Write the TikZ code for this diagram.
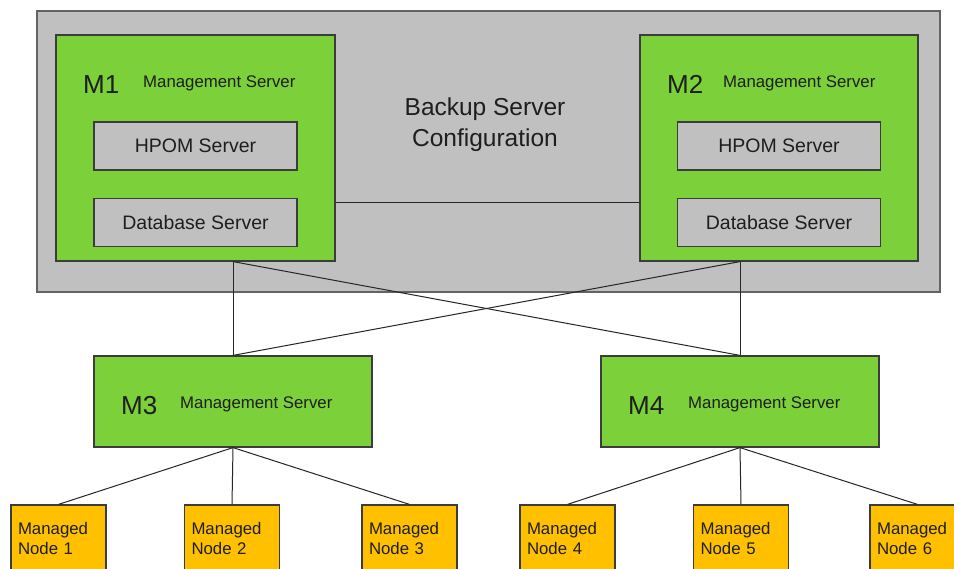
\documentclass[tikz,border=0pt]{standalone}
\usepackage{fontspec}
\setmainfont{Liberation Sans}
\usetikzlibrary{calc}
\definecolor{srvgreen}{RGB}{124,208,58}
\definecolor{bggray}{RGB}{192,192,192}
\definecolor{nodeorange}{RGB}{255,192,0}
\definecolor{edgegray}{RGB}{60,60,60}
\definecolor{txt}{RGB}{30,30,30}
\tikzset{
  backupbox/.style={draw=edgegray!80, line width=1.3pt, fill=bggray, inner sep=0pt},
  mgmtbox/.style={draw=edgegray, line width=1.2pt, fill=srvgreen, inner sep=0pt},
  innerbox/.style={draw=edgegray, line width=1.2pt, fill=bggray, inner sep=0pt,
     minimum width=203pt, minimum height=48pt, text=txt,
     font=\fontsize{19.5}{23}\selectfont},
  managed/.style={draw=edgegray, line width=1.2pt, fill=nodeorange, inner ysep=0pt,
     inner xsep=7pt, text width=81pt, align=left, minimum height=66pt, text=txt,
     font=\fontsize{16.8}{20}\selectfont},
  bigm/.style={anchor=base west, inner sep=0pt, text=txt, font=\fontsize{26}{30}\selectfont},
  smallm/.style={anchor=base west, inner sep=0pt, text=txt, font=\fontsize{16.8}{20}\selectfont},
  link/.style={draw=black!85, line width=1pt}
}
\begin{document}
\begin{tikzpicture}[x=1pt,y=-1pt]
\useasboundingbox (0,0) rectangle (954,569);
\clip (0,0) rectangle (954,569);
\fill[white] (0,0) rectangle (954,569);
% backup server configuration
\node[backupbox, minimum width=903pt, minimum height=281pt] (bk) at (488.5,151.5) {};
\node[align=center, inner sep=0pt, text=txt, font=\fontsize{24.5}{31}\selectfont] (bktext) at (485,125) {Backup Server\\Configuration};
% M1
\node[mgmtbox, minimum width=279pt, minimum height=226pt] (m1) at (195.5,148) {};
\node[bigm] (m1l) at (83,94) {M1};
\node[smallm] (m1s) at (143,88) {Management Server};
\node[innerbox] (hp1) at (195.5,146) {HPOM Server};
\node[innerbox] (db1) at (195.5,222.5) {Database Server};
% M2
\node[mgmtbox, minimum width=278pt, minimum height=226pt] (m2) at (779,148) {};
\node[bigm] (m2l) at (667,94) {M2};
\node[smallm] (m2s) at (723,88) {Management Server};
\node[innerbox] (hp2) at (779,146) {HPOM Server};
\node[innerbox] (db2) at (779,222.5) {Database Server};
% M3, M4
\node[mgmtbox, minimum width=278pt, minimum height=91pt] (m3) at (233,401.5) {};
\node[bigm] (m3l) at (121,415) {M3};
\node[smallm] (m3s) at (180,409) {Management Server};
\node[mgmtbox, minimum width=278pt, minimum height=91pt] (m4) at (740,401.5) {};
\node[bigm] (m4l) at (628,415) {M4};
\node[smallm] (m4s) at (688,409) {Management Server};
% managed nodes
\node[managed] (n1) at (58.5,538) {Managed\\Node 1};
\node[managed] (n2) at (232,538) {Managed\\Node 2};
\node[managed] (n3) at (409.5,538) {Managed\\Node 3};
\node[managed] (n4) at (567.5,538) {Managed\\Node 4};
\node[managed] (n5) at (741,538) {Managed\\Node 5};
\node[managed] (n6) at (917.5,538) {Managed\\Node 6};
% connectors
\draw[link] ([yshift=-55pt]m1.east) -- ([yshift=-55pt]m2.west);
\draw[link] (m3.north) -- (m3.north |- m1.south);
\draw[link] (m3.north |- m1.south) -- (m4.north);
\draw[link] (m4.north) -- (m4.north |- m2.south);
\draw[link] (m4.north |- m2.south) -- (m3.north);
\draw[link] (m3.south) -- (n1.north);
\draw[link] (m3.south) -- (n2.north);
\draw[link] (m3.south) -- (n3.north);
\draw[link] (m4.south) -- (n4.north);
\draw[link] (m4.south) -- (n5.north);
\draw[link] (m4.south) -- (n6.north);
\end{tikzpicture}
\end{document}
